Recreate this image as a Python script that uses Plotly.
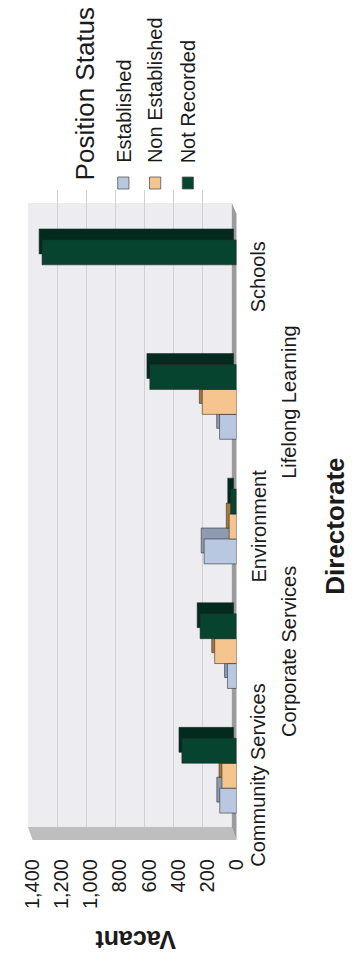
import plotly.graph_objects as go

# Vacant positions by directorate and position status
directorates = ["Community Services", "Corporate Services", "Environment",
                "Lifelong Learning", "Schools"]
established = [115, 62, 222, 116, 0]
non_established = [100, 150, 50, 235, 0]
not_recorded = [375, 250, 40, 595, 1335]
value_ticks = [0, 200, 400, 600, 800, 1000, 1200, 1400]

series = [
    ("Established", established, "#B8C8E0", "#8E9AB0"),
    ("Non Established", non_established, "#F6C48E", "#A7773F"),
    ("Not Recorded", not_recorded, "#06442F", "#022B1D"),
]

W, H = 356, 963
FONT = "Liberation Sans, Arial, sans-serif"
INK = "#1b1b1b"


def px(x):
    return x / W


def py(y):
    return 1 - y / H


def shown(vals):
    # empty cells are left out rather than drawn as zero-length bars
    return [v if v else None for v in vals]


fig = go.Figure()
idx = list(range(len(directorates)))

bar_w = 0.2          # width of one bar in category units
depth_y = 0.088      # 3-D depth, category units
depth_x = 20         # 3-D depth, value units

# depth faces first, so the front faces of neighbouring bars cover them
for k, (name, vals, front, side) in enumerate(series):
    off = (k - 1) * bar_w - bar_w / 2
    fig.add_trace(go.Bar(
        y=idx, x=shown(vals), base=[depth_x] * len(vals), orientation="h",
        offset=off + depth_y, width=bar_w,
        marker=dict(color=side, line=dict(color="rgba(40,40,40,0.8)", width=0.7)),
        xaxis="x2", yaxis="y2", showlegend=False, hoverinfo="skip",
    ))
for k, (name, vals, front, side) in enumerate(series):
    off = (k - 1) * bar_w - bar_w / 2
    fig.add_trace(go.Bar(
        y=idx, x=shown(vals), orientation="h", name=name,
        offset=off, width=bar_w,
        marker=dict(color=front, line=dict(color="rgba(40,40,40,0.8)", width=0.7)),
        xaxis="x2", yaxis="y2", showlegend=False,
    ))

# empty trace that carries the back-wall axes with their gridlines
fig.add_trace(go.Scatter(x=[], y=[], xaxis="x", yaxis="y", showlegend=False,
                         hoverinfo="skip"))

shapes = [
    # back wall
    dict(type="rect", xref="paper", yref="paper", layer="below",
         x0=px(17), x1=px(235), y0=py(827), y1=py(203),
         fillcolor="#EDEDF1", line=dict(width=0)),
    # floor
    dict(type="path", xref="paper", yref="paper", layer="below",
         path=f"M{px(17)},{py(827)} L{px(235)},{py(827)} L{px(240)},{py(840)} "
              f"L{px(22)},{py(840)} Z",
         fillcolor="#BEBEBE", line=dict(width=0)),
    # side wall
    dict(type="path", xref="paper", yref="paper", layer="below",
         path=f"M{px(235)},{py(203)} L{px(240)},{py(214)} L{px(240)},{py(840)} "
              f"L{px(235)},{py(827)} Z",
         fillcolor="#9C9C9C", line=dict(width=0)),
]

annotations = []
# category labels, staggered in two rows
label_x = [263, 296]
for i, name in enumerate(directorates):
    annotations.append(dict(
        text=name, textangle=-90, xref="paper", yref="y2",
        x=px(label_x[i % 2]), y=i, xanchor="center", yanchor="middle",
        showarrow=False, font=dict(family=FONT, size=20, color=INK)))

annotations.append(dict(
    text="<b>Vacant</b>", textangle=180, xref="paper", yref="paper",
    x=px(132), y=py(940), xanchor="center", yanchor="middle", showarrow=False,
    font=dict(family=FONT, size=25, color=INK)))
annotations.append(dict(
    text="<b>Directorate</b>", textangle=-90, xref="paper", yref="paper",
    x=px(345), y=py(526), xanchor="center", yanchor="middle", showarrow=False,
    font=dict(family=FONT, size=26, color=INK)))

# legend
annotations.append(dict(
    text="Position Status", textangle=-90, xref="paper", yref="paper",
    x=px(79), y=py(182), xanchor="center", yanchor="bottom", showarrow=False,
    font=dict(family=FONT, size=26, color=INK)))
legend_x = [119, 153, 188]
for (name, vals, front, side), lx in zip(series, legend_x):
    annotations.append(dict(
        text=name, textangle=-90, xref="paper", yref="paper",
        x=px(lx), y=py(165), xanchor="center", yanchor="bottom", showarrow=False,
        font=dict(family=FONT, size=20, color=INK)))
    shapes.append(dict(
        type="rect", xref="paper", yref="paper",
        x0=px(lx - 6), x1=px(lx + 6), y0=py(189), y1=py(177),
        fillcolor=front, line=dict(color="#555555", width=0.8)))

fig.update_layout(
    width=W, height=H, autosize=False,
    margin=dict(l=0, r=0, t=0, b=0),
    paper_bgcolor="white", plot_bgcolor="rgba(0,0,0,0)",
    barmode="overlay",
    showlegend=False,
    font=dict(family=FONT, color=INK),
    shapes=shapes, annotations=annotations,
    # back wall with gridlines
    xaxis=dict(domain=[px(17), px(235)], range=[1400, 0], anchor="y",
               tickvals=value_ticks, showgrid=True, gridcolor="#D0D0D7",
               gridwidth=1, showticklabels=False, zeroline=False,
               showline=False, ticks="", fixedrange=True),
    yaxis=dict(domain=[py(827), py(190)], range=[0, 1], anchor="x",
               showgrid=False, showticklabels=False, zeroline=False,
               showline=False, ticks="", fixedrange=True),
    # front plane carrying the bars and the value labels
    xaxis2=dict(domain=[px(22), px(240)], range=[1400, 0], anchor="y2",
                tickvals=value_ticks, tickformat=",", tickangle=-90,
                tickfont=dict(family=FONT, size=20, color=INK),
                ticklabelstandoff=16, showgrid=False, zeroline=False,
                showline=False, ticks="", fixedrange=True),
    yaxis2=dict(domain=[py(838), py(215)], range=[-0.5, 4.5], anchor="x2",
                showgrid=False, showticklabels=False, zeroline=False,
                showline=False, ticks="", fixedrange=True),
)

fig.write_html("out.html")
